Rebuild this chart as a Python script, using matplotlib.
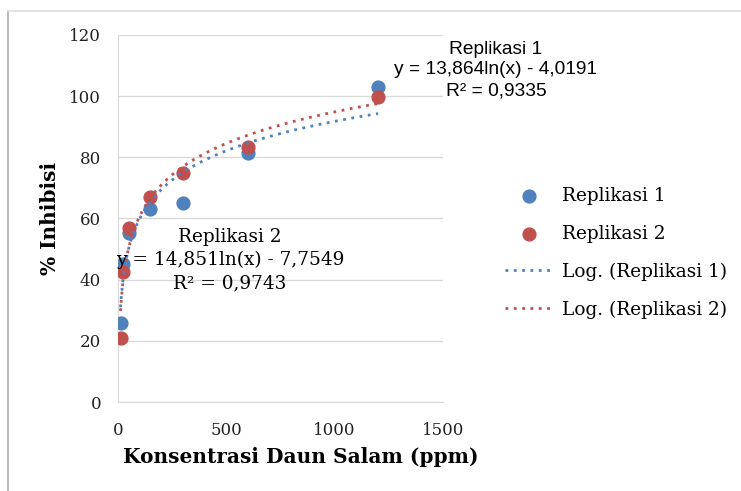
import numpy as np
import matplotlib.pyplot as plt
from matplotlib.lines import Line2D

# data
konsentrasi = [12.5, 25, 50, 150, 300, 600, 1200]
replikasi_1 = [25.7, 45.0, 55.2, 63.0, 65.0, 81.3, 103.1]
replikasi_2 = [21.0, 42.6, 56.9, 67.1, 74.8, 83.2, 99.6]

# log trendline coefficients (as printed on the chart)
coef_1 = (13.864, -4.0191)
coef_2 = (14.851, -7.7549)

BLUE = '#4f81bd'
RED = '#c0504d'
SERIF = ['DejaVu Serif']
SANS = ['Liberation Sans', 'DejaVu Sans']

fig = plt.figure(figsize=(7.41, 4.91), dpi=100)
ax = fig.add_axes([0.159, 0.181, 0.439, 0.748])

ax.scatter(konsentrasi, replikasi_1, s=85, color=BLUE, zorder=3, label='Replikasi 1')
ax.scatter(konsentrasi, replikasi_2, s=85, color=RED, zorder=3, label='Replikasi 2')

xs = np.linspace(min(konsentrasi), max(konsentrasi), 400)
ax.plot(xs, coef_1[0] * np.log(xs) + coef_1[1], color=BLUE, lw=2, ls=(0, (1, 2)),
        zorder=4, label='Log. (Replikasi 1)')
ax.plot(xs, coef_2[0] * np.log(xs) + coef_2[1], color=RED, lw=2, ls=(0, (1, 2)),
        zorder=4, label='Log. (Replikasi 2)')

ax.set_xlim(0, 1500)
ax.set_ylim(0, 120)
ax.set_xticks([0, 500, 1000, 1500])
ax.set_yticks(range(0, 121, 20))
ax.grid(axis='y', color='#d9d9d9', lw=1)
ax.set_axisbelow(True)
for s in ['top', 'right']:
    ax.spines[s].set_visible(False)
ax.spines['left'].set_color('#d9d9d9')
ax.spines['bottom'].set_color('#d9d9d9')
ax.tick_params(length=0, labelsize=12, labelcolor='#222222')
ax.tick_params(axis='x', pad=14)
ax.tick_params(axis='y', pad=12)
for lab in ax.get_xticklabels() + ax.get_yticklabels():
    lab.set_family(SERIF)

ax.set_xlabel('Konsentrasi Daun Salam (ppm)', family=SERIF, fontsize=14.5,
              fontweight='bold')
ax.xaxis.set_label_coords(0.563, -0.122)
ax.set_ylabel('% Inhibisi', family=SERIF, fontsize=14.5, fontweight='bold', labelpad=7)

# trendline equations
fig.text(496 / 741, 1 - 70 / 491, 'Replikasi 1\ny = 13,864ln(x) - 4,0191\nR² = 0,9335',
         family=SANS, fontsize=13.8, ha='center', va='center', linespacing=1.27)
fig.text(230 / 741, 1 - 260 / 491, 'Replikasi 2\ny = 14,851ln(x) - 7,7549\nR² = 0,9743',
         family=SERIF, fontsize=13.3, ha='center', va='center', linespacing=1.35)

leg = ax.legend(loc='center left', bbox_to_anchor=(488 / 741, 1 - 253 / 491),
                bbox_transform=fig.transFigure, frameon=False,
                prop={'family': SERIF, 'size': 13.3}, handlelength=2.6,
                labelspacing=1.07, handletextpad=0.5)

# outer frame (left and top only)
fig.add_artist(Line2D([8 / 741, 8 / 741], [0, 1 - 11 / 491], color='#b0b0b0', lw=1.2,
                      transform=fig.transFigure))
fig.add_artist(Line2D([8 / 741, 1], [1 - 11 / 491, 1 - 11 / 491], color='#dddddd', lw=1.2,
                      transform=fig.transFigure))

fig.savefig('out.png', dpi=100)
